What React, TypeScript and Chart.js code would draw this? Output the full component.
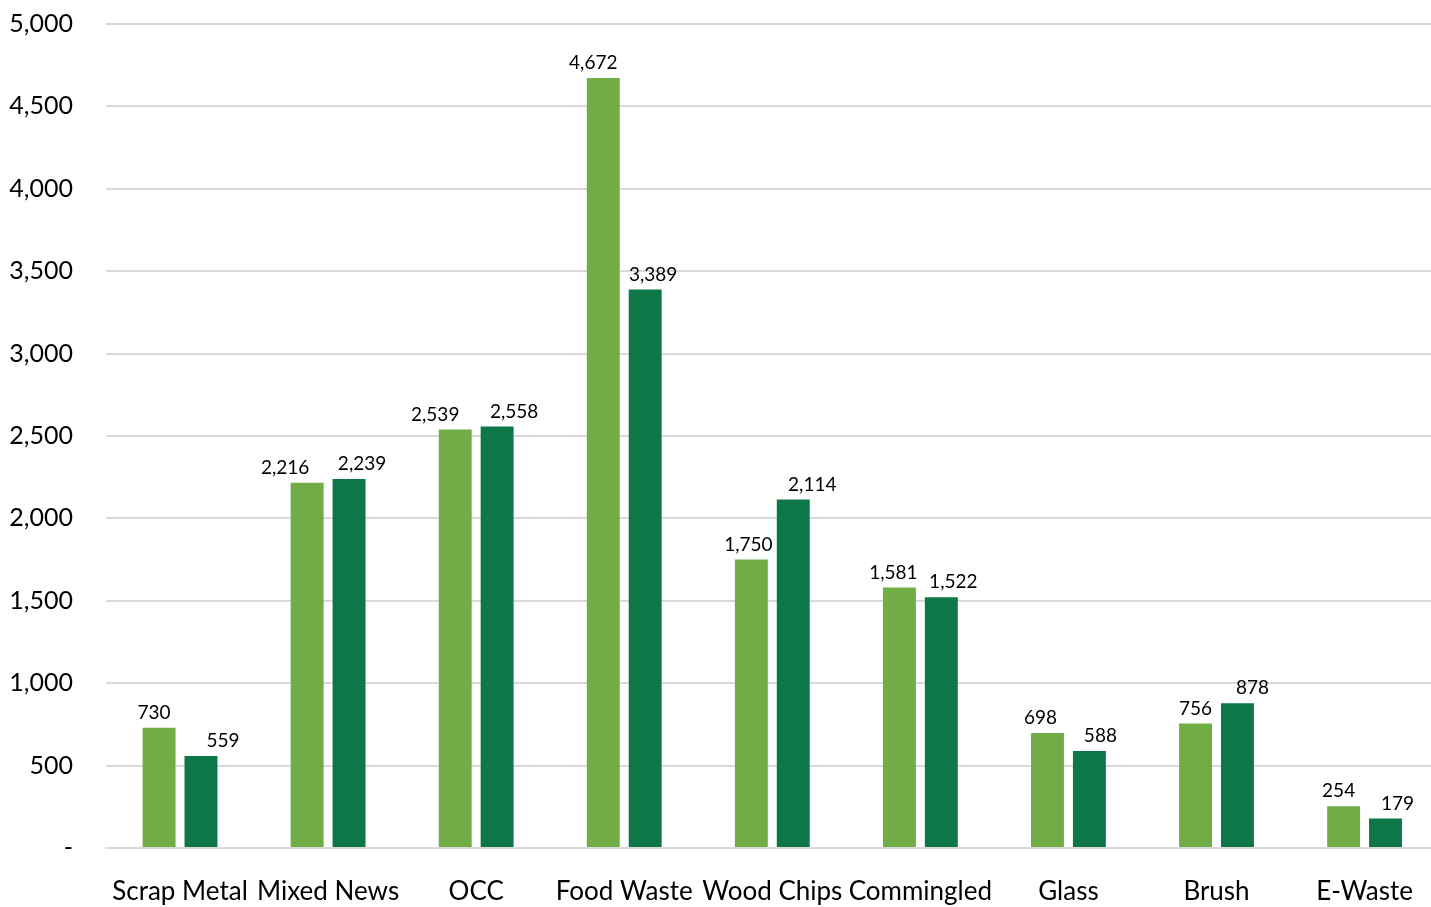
import React, { useEffect, useRef } from "react";
import { Chart, registerables } from "chart.js";

Chart.register(...registerables);

const categories = ["Scrap Metal", "Mixed News", "OCC", "Food Waste", "Wood Chips", "Commingled", "Glass", "Brush", "E-Waste"];
const series1 = [730, 2216, 2539, 4672, 1750, 1581, 698, 756, 254];
const series2 = [559, 2239, 2558, 3389, 2114, 1522, 588, 878, 179];
const yTicks = [0, 500, 1000, 1500, 2000, 2500, 3000, 3500, 4000, 4500, 5000];
// horizontal nudges of the value labels (style only)
const labelShift1 = [-5, -22, -20, -10, -3, -6, -7, 0, -5];
const labelShift2 = [22, 13, 17, 8, 19, 12, 11, 15, 12];

const FONT = "Lato, 'Open Sans', sans-serif";

const fmt = (v: number) => (v === 0 ? "-" : v.toLocaleString("en-US"));

const labelPlugin = {
  id: "barLabels",
  afterDatasetsDraw(chart: any) {
    const ctx = chart.ctx;
    ctx.save();
    ctx.font = `19px ${FONT}`;
    ctx.fillStyle = "#000";
    ctx.textAlign = "center";
    ctx.textBaseline = "middle";
    chart.data.datasets.forEach((ds: any, i: number) => {
      const meta = chart.getDatasetMeta(i);
      const shifts = i === 0 ? labelShift1 : labelShift2;
      meta.data.forEach((bar: any, j: number) => {
        ctx.fillText(fmt(ds.data[j]), bar.x + shifts[j], bar.y - 15);
      });
    });
    ctx.restore();
  },
};

export default function App() {
  const ref = useRef<HTMLCanvasElement>(null);
  useEffect(() => {
    if (!ref.current) return;
    const chart = new Chart(ref.current, {
      type: "bar",
      data: {
        labels: categories,
        datasets: [
          { label: "A", data: series1, backgroundColor: "#70AD47", categoryPercentage: 0.566, barPercentage: 0.786 },
          { label: "B", data: series2, backgroundColor: "#0E7748", categoryPercentage: 0.566, barPercentage: 0.786 },
        ],
      },
      options: {
        animation: false,
        responsive: false,
        maintainAspectRatio: false,
        layout: { padding: { top: 0, right: 0, left: 0, bottom: 0 } },
        plugins: { legend: { display: false }, tooltip: { enabled: false } },
        scales: {
          x: {
            grid: { display: false, drawTicks: false },
            border: { display: true, color: "#d9d9d9", width: 2 },
            ticks: { font: { family: FONT, size: 26 }, color: "#000", padding: 28, maxRotation: 0, autoSkip: false },
            afterFit: (s: any) => { s.height = 59; },
          },
          y: {
            min: 0,
            max: 5000,
            afterBuildTicks: (s: any) => { s.ticks = yTicks.map((v) => ({ value: v })); },
            grid: { color: "#d9d9d9", lineWidth: 2, drawTicks: false },
            border: { display: false },
            ticks: { font: { family: FONT, size: 25 }, color: "#000", padding: 33, callback: (v: any) => fmt(Number(v)) },
            afterFit: (s: any) => { s.width = 106; },
          },
        },
      },
      plugins: [labelPlugin],
    });
    return () => chart.destroy();
  }, []);
  return (
    <div style={{ position: "fixed", left: 0, top: 0, width: 1431, height: 907, overflow: "hidden", background: "#fff" }}>
      <canvas ref={ref} width={1441} height={931} style={{ display: "block", position: "absolute", left: 0, top: -24 }} />
    </div>
  );
}
